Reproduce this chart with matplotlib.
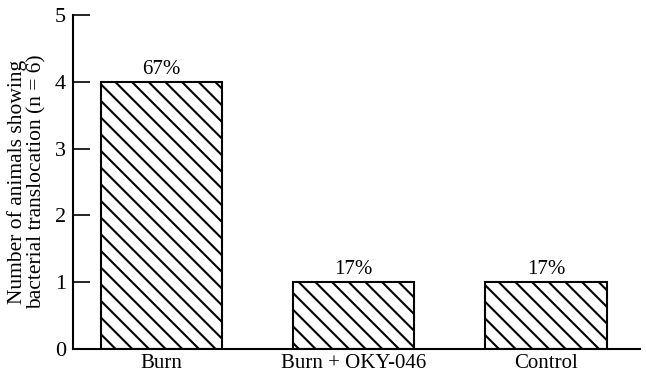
import matplotlib
matplotlib.use("Agg")
import matplotlib.pyplot as plt

# data
groups = ["Burn", "Burn + OKY-046", "Control"]
counts = [4, 1, 1]
percents = ["67%", "17%", "17%"]
y_ticks = [0, 1, 2, 3, 4, 5]

plt.rcParams['font.family'] = ['Liberation Serif', 'DejaVu Serif']
plt.rcParams['hatch.linewidth'] = 1.5

fig = plt.figure(figsize=(6.46, 3.76), dpi=100)
ax = fig.add_axes([0.113, 0.072, 0.878, 0.888])

xs = list(range(len(groups)))
bars = ax.bar(xs, counts, width=0.63, color='white', edgecolor='black',
              linewidth=1.5, hatch='\\\\')

for x, c, p in zip(xs, counts, percents):
    ax.annotate(p, (x, c), xytext=(0, 2), textcoords='offset points',
                ha='center', va='bottom', fontsize=15)

ax.set_xlim(-0.458, 2.49)
ax.set_ylim(0, 5)
ax.set_yticks(y_ticks)
ax.set_xticks(xs)
ax.set_xticklabels(groups, fontsize=15)
ax.tick_params(axis='y', direction='in', length=12, width=1.2, labelsize=16, pad=5)
ax.tick_params(axis='x', length=0, pad=4)

for s in ['top', 'right']:
    ax.spines[s].set_visible(False)
ax.spines['left'].set_linewidth(1.5)
ax.spines['bottom'].set_linewidth(1.5)

ax.set_ylabel("Number of animals showing\nbacterial translocation (n = 6)",
              fontsize=15.5, linespacing=1.0, labelpad=6)

fig.savefig("out.png", dpi=100)
